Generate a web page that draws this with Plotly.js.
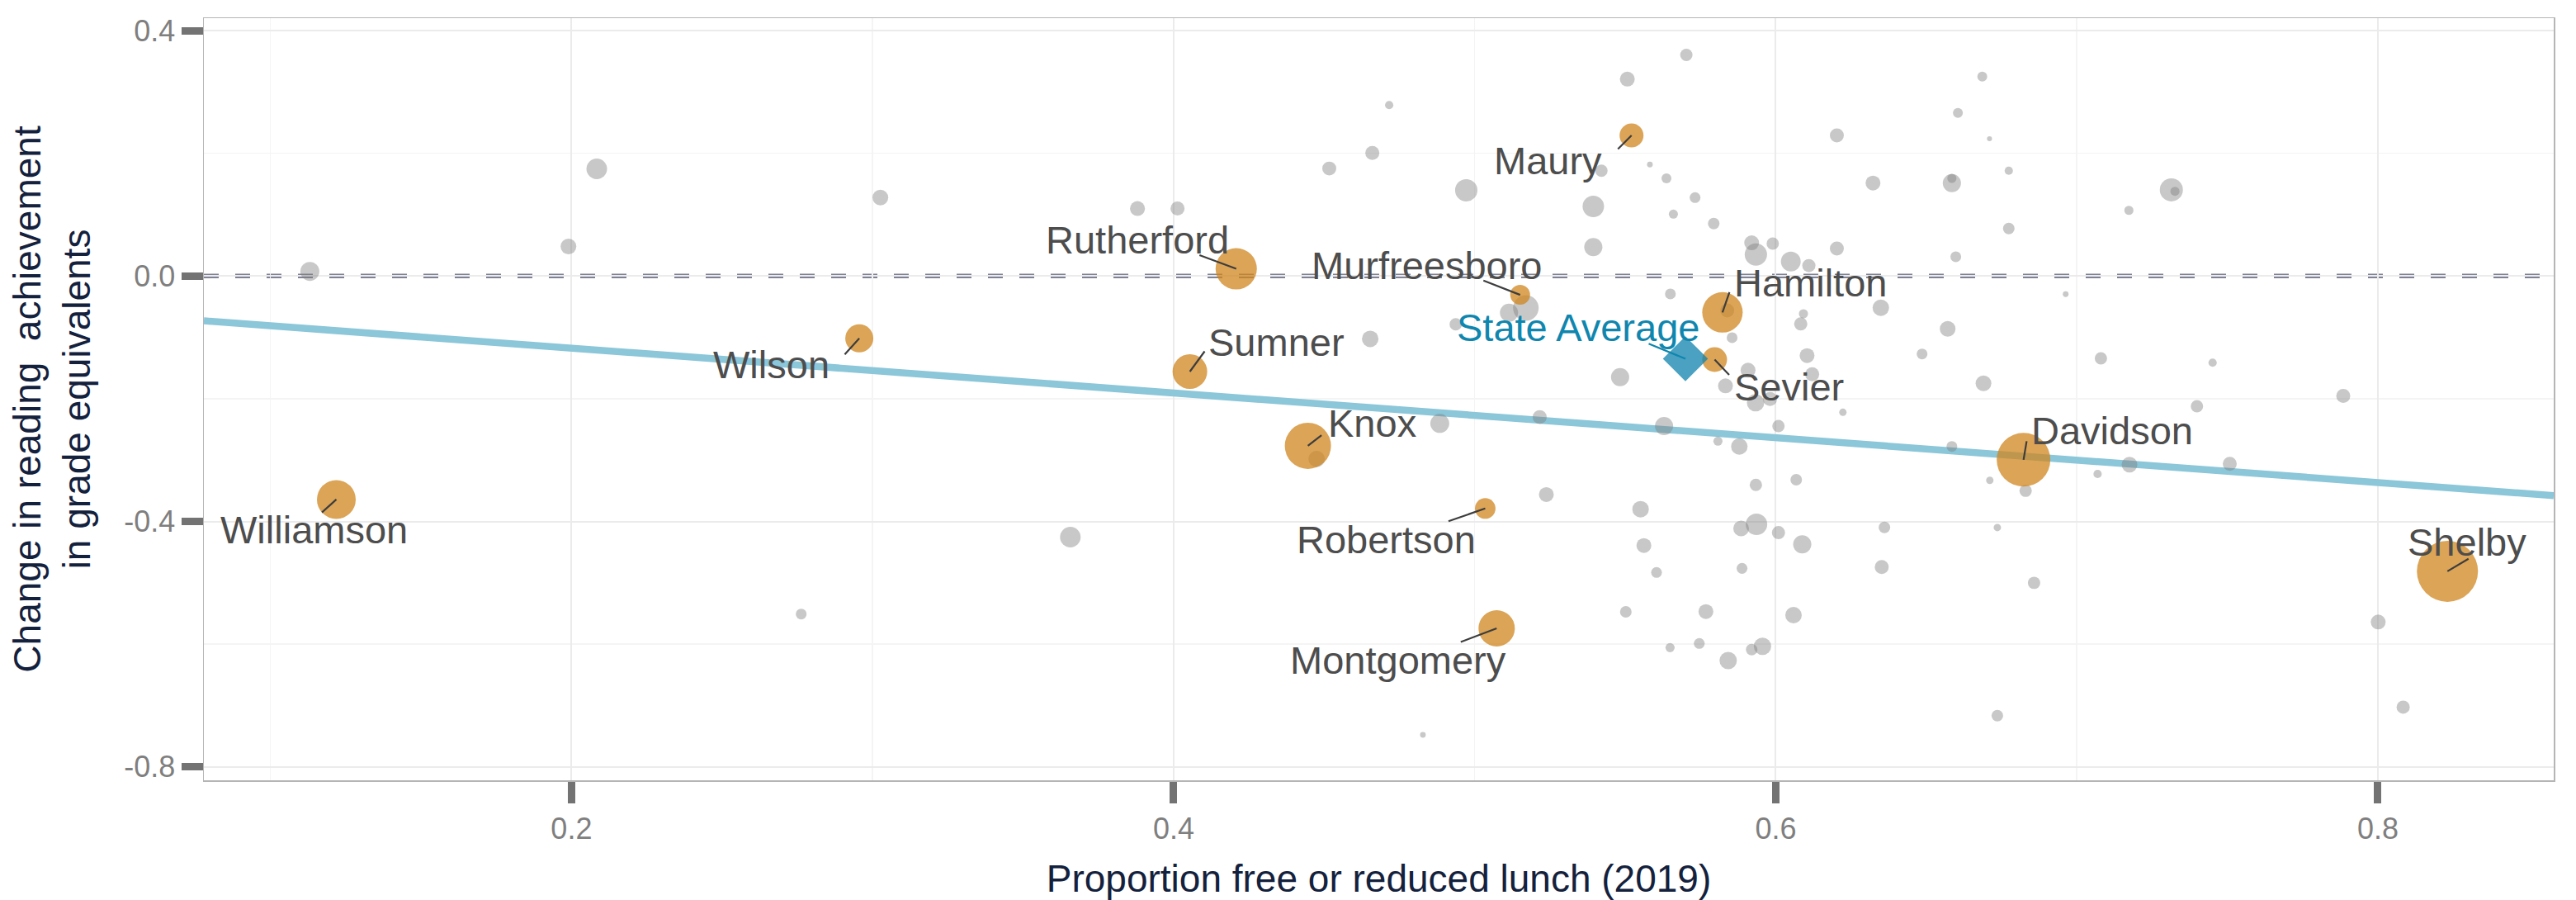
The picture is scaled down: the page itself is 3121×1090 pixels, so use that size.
<!DOCTYPE html>
<html>
<head>
<meta charset="utf-8">
<script src="https://cdn.plot.ly/plotly-3.0.1.min.js"></script>
<style>html,body{margin:0;padding:0;background:#fff;}#chart{width:3121px;height:1090px;}</style>
</head>
<body>
<div id="chart"></div>
<script>
// ---------- DATA ----------
// Other districts (grey): free/reduced lunch share, change in reading GE, enrollment (thousands)
const otherFrl = [0.1131,0.2084,0.1990,0.3026,0.3880,0.4013,0.2763,0.3657,0.5703,0.5507,
  0.4716,0.6203,0.4660,0.4517,0.5421,0.5582,0.4972,0.5637,0.6323,0.6585,
  0.6585,0.5732,0.5394,0.5660,0.5794,0.5394,0.5920,0.5934,0.5990,0.6203,
  0.6598,0.6050,0.6110,0.5650,0.5839,0.6349,0.6092,0.6083,0.6571,0.5855,
  0.6104,0.6486,0.5483,0.5908,0.5833,0.6121,0.6690,0.5933,0.5981,0.6223,
  0.5629,0.6009,0.5808,0.5879,0.6585,0.5934,0.6068,0.6711,0.5551,0.5936,
  0.5885,0.6009,0.6361,0.6088,0.5562,0.4937,0.5170,0.5114,0.4653,0.4884,
  0.5216,0.4475,0.5604,0.5888,0.6352,0.5502,0.5768,0.6059,0.5649,0.5746,
  0.5920,0.5956,0.5842,0.6736,0.5238,0.4828,0.6686,0.6605,0.6710,0.6774,
  0.7314,0.7326,0.7173,0.6774,0.6963,0.7080,0.7451,0.7399,0.7885,0.7175,
  0.7508,0.7069,0.6830,0.6736,0.6858,0.8001,0.8084];
const otherChange = [0.0075,0.1747,0.0482,0.128,0.110,0.110,-0.551,-0.4256,0.3603,0.321,
  0.2786,0.2292,0.2007,0.1752,0.1717,0.1817,0.1398,0.1592,0.1515,0.1515,
  0.1592,0.1279,0.1135,0.1009,0.0856,0.0471,0.0542,0.035,0.0529,0.0448,
  0.0314,0.0237,0.017,-0.0292,-0.0561,-0.0517,-0.0615,-0.0781,-0.0861,-0.1005,
  -0.1297,-0.1271,-0.1647,-0.1534,-0.179,-0.1602,-0.175,-0.2065,-0.2005,-0.2221,
  -0.2446,-0.2446,-0.2692,-0.2778,-0.2778,-0.3405,-0.332,-0.333,-0.380,-0.4047,
  -0.4114,-0.4182,-0.4097,-0.4374,-0.4393,-0.0787,-0.052,-0.0599,-0.1024,-0.2402,
  -0.2299,-0.2981,-0.4832,-0.4765,-0.4743,-0.5474,-0.547,-0.5528,-0.6057,-0.5989,
  -0.6089,-0.6035,-0.6268,-0.7166,-0.3561,-0.7479,0.3252,0.266,0.2238,0.1717,
  0.1404,0.1381,0.1071,0.0775,-0.0296,-0.1342,-0.1413,-0.2122,-0.1954,-0.3075,
  -0.3061,-0.3226,-0.350,-0.41,-0.5001,-0.5639,-0.7027];
const otherEnroll = [9.9,11.7,6.8,6.8,6.1,5.4,3.2,11.7,4.2,6.1,
  1.9,5.4,5.4,5.4,4.2,0.9,13.7,2.7,6.1,9.1,
  2.3,3.2,12.7,2.3,3.7,9.1,6.1,13.7,4.2,5.4,
  3.2,10.8,4.8,3.2,5.4,7.5,2.3,4.8,6.8,3.2,
  6.1,3.2,9.1,6.1,6.1,5.4,6.8,8.3,5.4,1.5,
  9.1,4.2,2.3,7.5,3.2,4.2,3.7,1.5,7.5,12.7,
  6.8,4.8,3.7,9.1,6.1,4.2,18.0,9.1,7.5,9.9,
  5.4,7.5,3.2,3.2,5.4,3.7,6.1,7.5,2.3,3.2,
  3.7,8.3,8.3,3.7,6.1,0.9,2.7,2.7,0.7,1.9,
  14.7,2.3,2.3,3.7,0.9,4.2,1.9,4.2,5.4,6.8,
  5.4,1.9,4.2,1.5,4.2,6.1,4.8];

// Highlighted districts (orange)
const namedDistricts = ["Williamson","Rutherford","Wilson","Sumner","Knox","Murfreesboro","Maury",
  "Hamilton","Sevier","Robertson","Montgomery","Davidson","Shelby"];
const namedFrl = [0.1219,0.4208,0.2956,0.4054,0.4446,0.5151,0.5521,0.5823,0.5797,0.5035,0.5073,0.6823,0.8231];
const namedChange = [-0.3642,0.0118,-0.1015,-0.1557,-0.2768,-0.0307,0.2292,-0.0592,-0.1362,-0.3789,-0.5743,-0.2995,-0.4813];
const namedEnroll = [41.5,46.9,21.7,33.1,58.8,10.8,15.8,45.1,16.9,11.7,36.3,79.3,102.8];

// State average
const stateLabel = "State Average";
const stateFrl = [0.5700];
const stateChange = [-0.1349];

// Fitted line
const fitIntercept = -0.0446;
const fitSlope = -0.365;

// Axes
const xRange = [0.0779, 0.8584];
const yRange = [-0.8219, 0.4203];
const xTickVals = [0.2, 0.4, 0.6, 0.8];
const xTickText = ["0.2", "0.4", "0.6", "0.8"];
const xMinorVals = [0.1, 0.3, 0.5, 0.7];
const yTickVals = [-0.8, -0.4, 0.0, 0.4];
const yTickText = ["-0.8", "-0.4", "0.0", "0.4"];
const yMinorVals = [-0.6, -0.2, 0.2];
const xTitle = "Proportion free or reduced lunch (2019)";
const yTitle = "Change in reading\u00a0 achievement<br>in grade equivalents";

// ---------- LABEL PLACEMENT (pixel offsets: text centre, segment start) ----------
const labelPlacement = {
  "Williamson":   {tx:-27,  ty: 37, sx:-19, sy: 17},
  "Rutherford":   {tx:-120, ty:-35, sx:-46, sy:-17},
  "Wilson":       {tx:-107, ty: 32, sx:-19, sy: 21},
  "Sumner":       {tx: 105, ty:-35, sx: 19, sy:-26},
  "Knox":         {tx: 78,  ty:-27, sx: 18, sy:-14},
  "Murfreesboro": {tx:-113, ty:-36, sx:-46, sy:-18},
  "Maury":        {tx:-101, ty: 31, sx:-18, sy: 18},
  "Hamilton":     {tx: 107, ty:-36, sx: 9,  sy:-26},
  "Sevier":       {tx: 90,  ty: 33, sx: 19, sy: 20},
  "Robertson":    {tx:-120, ty: 38, sx:-46, sy: 16},
  "Montgomery":   {tx:-119, ty: 38, sx:-45, sy: 17},
  "Davidson":     {tx: 107, ty:-35, sx: 4,  sy:-24},
  "Shelby":       {tx: 24,  ty:-35, sx: 27, sy:-16}
};
const statePlacement = {tx:-130, ty:-38, sx:-46, sy:-19};

// ---------- STYLE ----------
const FONT = "Liberation Sans, Arial, Helvetica, sans-serif";
const sizeScale = 7.3; // px diameter per sqrt(thousand students)
const toDiameter = e => sizeScale * Math.sqrt(e);

const fitX = xRange.slice();
const fitY = fitX.map(v => fitIntercept + fitSlope * v);

const traces = [
  {x: fitX, y: fitY, type: 'scatter', mode: 'lines',
   line: {color: '#8bc6d9', width: 8.5}, hoverinfo: 'skip', showlegend: false},
  {x: otherFrl, y: otherChange, type: 'scatter', mode: 'markers',
   marker: {color: 'rgba(123,123,123,0.42)', opacity: 1, size: otherEnroll.map(toDiameter), line: {width: 0}},
   showlegend: false},
  {x: namedFrl, y: namedChange, text: namedDistricts, type: 'scatter', mode: 'markers',
   marker: {color: 'rgba(207,134,31,0.75)', opacity: 1, size: namedEnroll.map(toDiameter), line: {width: 0}},
   showlegend: false},
  {x: stateFrl, y: stateChange, type: 'scatter', mode: 'markers',
   marker: {symbol: 'diamond', color: 'rgba(14,130,172,0.75)', opacity: 1, size: 42, line: {width: 0}},
   showlegend: false}
];

const annotations = [];
function addLabel(name, px, py, pl, color, segColor) {
  annotations.push({x: px, y: py, xref: 'x', yref: 'y', text: '', showarrow: true,
    ax: pl.sx, ay: pl.sy, arrowhead: 0, arrowwidth: 2.2, arrowcolor: segColor,
    standoff: 0, startstandoff: 0});
  annotations.push({x: px, y: py, xref: 'x', yref: 'y', text: name, showarrow: false,
    xshift: pl.tx, yshift: -pl.ty, xanchor: 'center', yanchor: 'middle',
    font: {family: FONT, size: 47, color: color}});
}
namedDistricts.forEach((n, i) => addLabel(n, namedFrl[i], namedChange[i], labelPlacement[n], '#4d4d4d', '#3d3d3d'));
addLabel(stateLabel, stateFrl[0], stateChange[0], statePlacement, '#0f86ae', '#0f86ae');

const axisCommon = {
  ticks: 'outside', ticklen: 26, tickwidth: 9, tickcolor: '#737373',
  tickfont: {family: FONT, size: 36, color: '#7f7f7f'},
  showgrid: true, gridcolor: '#ebebeb', gridwidth: 2,
  showline: true, mirror: true, linecolor: '#b5b5b5', linewidth: 1.5,
  zeroline: false, automargin: false, tickmode: 'array'
};

const layout = {
  width: 3121, height: 1090,
  margin: {l: 247, r: 27, t: 22, b: 145},
  paper_bgcolor: '#ffffff', plot_bgcolor: '#ffffff',
  font: {family: FONT},
  showlegend: false,
  xaxis: Object.assign({}, axisCommon, {
    range: xRange, tickvals: xTickVals, ticktext: xTickText,
    minor: {tickmode: 'array', tickvals: xMinorVals, showgrid: true, gridcolor: '#f4f4f4', gridwidth: 1.5, ticks: ''},
    title: {text: xTitle, font: {family: FONT, size: 46, color: '#14213d'}, standoff: 28}
  }),
  yaxis: Object.assign({}, axisCommon, {
    range: yRange, tickvals: yTickVals, ticktext: yTickText,
    minor: {tickmode: 'array', tickvals: yMinorVals, showgrid: true, gridcolor: '#f4f4f4', gridwidth: 1.5, ticks: ''},
    title: {text: yTitle, font: {family: FONT, size: 46, color: '#14213d'}, standoff: 26}
  }),
  shapes: [{type: 'line', xref: 'paper', x0: 0, x1: 1, yref: 'y', y0: 0, y1: 0,
    line: {color: '#7f8194', width: 5.5, dash: '18px,20px'}, layer: 'between'}],
  annotations: annotations
};

Plotly.newPlot('chart', traces, layout, {displayModeBar: false, staticPlot: true});
</script>
</body>
</html>
